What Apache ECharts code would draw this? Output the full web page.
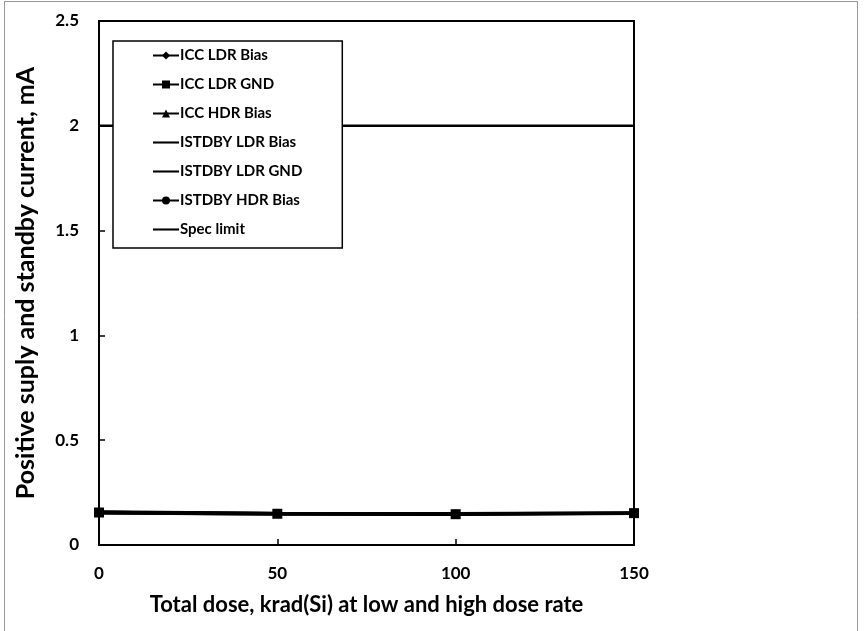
<!DOCTYPE html>
<html>
<head>
<meta charset="utf-8">
<script src="https://cdn.jsdelivr.net/npm/echarts@6/dist/echarts.min.js"></script>
<style>html,body{margin:0;padding:0;background:#fff}#c{width:867px;height:631px}</style>
</head>
<body>
<div id="c"></div>
<script>
const doses = [0, 50, 100, 150];
const iccLdrBias = [0.158, 0.152, 0.150, 0.154];
const iccLdrGnd = [0.155, 0.149, 0.147, 0.152];
const iccHdrBias = [0.160, 0.153, 0.151, 0.155];
const istdbyLdrBias = [0.152, 0.147, 0.145, 0.150];
const istdbyLdrGnd = [0.151, 0.146, 0.144, 0.149];
const istdbyHdrBias = [0.157, 0.151, 0.149, 0.153];
const specLimit = [2, 2, 2, 2];
const yTicks = [0, 0.5, 1, 1.5, 2, 2.5];
const xTicks = [0, 50, 100, 150];

const FONT = 'Lato';
const LINE_ICON = 'path://M0,0L100,0L100,8L0,8Z';
function pairs(vals){ return doses.map((d,i)=>[d, vals[i]]); }
function s(name, vals, symbol, size, z){
  return {name, type:'line', data:pairs(vals), symbol: symbol || 'none', symbolSize: size || 7,
    showSymbol: !!symbol, lineStyle:{color:'#000', width:2.5}, itemStyle:{color:'#000'}, z: z||2, animation:false};
}
const chart = echarts.init(document.getElementById('c'), null, {renderer:'canvas'});
chart.setOption({
  animation:false,
  backgroundColor:'#fff',
  graphic:[{type:'rect', shape:{x:4.5, y:1.5, width:853, height:640}, style:{fill:'none', stroke:'#999', lineWidth:1}, silent:true}],
  grid:{left:99, top:21, width:535, height:524, show:true, borderColor:'#000', borderWidth:2, backgroundColor:'transparent'},
  legend:{
    orient:'vertical', left:113, top:41,
    padding:[7, 40, 11, 39], itemGap:14, itemWidth:26, itemHeight:10,
    backgroundColor:'#fff', borderColor:'#000', borderWidth:1.5,
    textStyle:{fontFamily:FONT, fontWeight:'bold', fontSize:15, color:'#000', padding:[0,0,0,-4]},
    data:[
      {name:'ICC LDR Bias'},
      {name:'ICC LDR GND'},
      {name:'ICC HDR Bias'},
      {name:'ISTDBY LDR Bias', icon:LINE_ICON},
      {name:'ISTDBY LDR GND', icon:LINE_ICON},
      {name:'ISTDBY HDR Bias'},
      {name:'Spec limit', icon:LINE_ICON}
    ]
  },
  xAxis:{
    type:'value', min:0, max:150, interval:50,
    name:'Total dose, krad(Si) at low and high dose rate', nameLocation:'middle', nameGap:49,
    nameTextStyle:{fontFamily:FONT, fontWeight:'bold', fontSize:22, color:'#000'},
    axisLine:{lineStyle:{color:'#000', width:2}},
    axisTick:{inside:true, length:6, lineStyle:{color:'#000', width:1.5}},
    axisLabel:{fontFamily:FONT, fontWeight:'bold', fontSize:17, color:'#000', margin:20,
      formatter:v=> xTicks.includes(v) ? String(v) : ''},
    splitLine:{show:false}
  },
  yAxis:{
    type:'value', min:0, max:2.5, interval:0.5,
    name:'Positive suply and standby current, mA', nameLocation:'middle', nameGap:61,
    nameTextStyle:{fontFamily:FONT, fontWeight:'bold', fontSize:25, color:'#000'},
    axisLine:{lineStyle:{color:'#000', width:2}},
    axisTick:{inside:true, length:6, lineStyle:{color:'#000', width:1.5}},
    axisLabel:{fontFamily:FONT, fontWeight:'bold', fontSize:17, color:'#000', margin:20,
      formatter:v=> yTicks.includes(v) ? String(v) : ''},
    splitLine:{show:false}
  },
  series:[
    s('ICC LDR Bias', iccLdrBias, 'diamond', 8, 3),
    s('ICC LDR GND', iccLdrGnd, 'rect', 10, 6),
    s('ICC HDR Bias', iccHdrBias, 'triangle', 8, 3),
    s('ISTDBY LDR Bias', istdbyLdrBias, null),
    s('ISTDBY LDR GND', istdbyLdrGnd, null),
    s('ISTDBY HDR Bias', istdbyHdrBias, 'circle', 7, 3),
    s('Spec limit', specLimit, null, 0, 1)
  ]
});
</script>
</body>
</html>
